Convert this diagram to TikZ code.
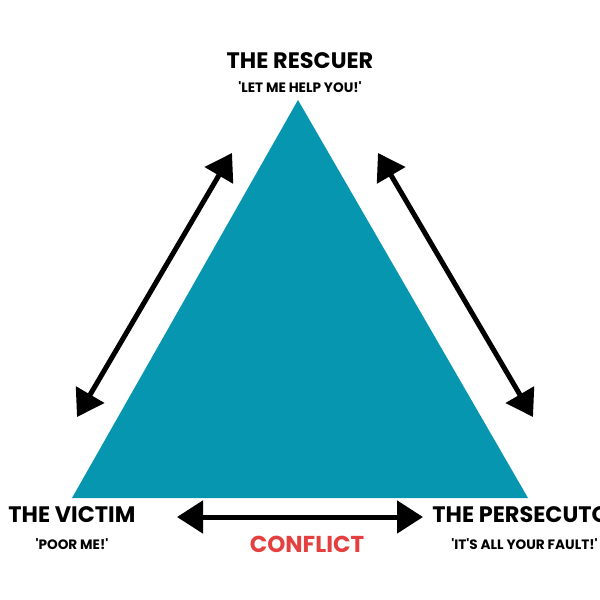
\documentclass[tikz,border=0pt]{standalone}
\usepackage{fontspec}
\setmainfont{Poppins}
\usetikzlibrary{arrows.meta}
\definecolor{dramateal}{HTML}{0796AF}
\definecolor{conflictred}{HTML}{E4403F}
\begin{document}
\begin{tikzpicture}[x=0.5pt, y=-0.5pt,
        role/.style={font=\bfseries\fontsize{11.2}{13}\selectfont, inner sep=0pt},
        quote/.style={font=\bfseries\fontsize{6.8}{8}\selectfont, inner sep=0pt},
        swap/.style={line width=2.5pt, {Triangle[length=13pt,width=16pt]}-{Triangle[length=13pt,width=16pt]}}]
        \useasboundingbox (0,0) rectangle (600,600);
        \clip (0,0) rectangle (600,600);

        % the triangle
        \coordinate (rescuer) at (298,100);
        \coordinate (victim) at (72,498);
        \coordinate (persecutor) at (528,498);
        \fill[dramateal] (rescuer) -- (victim) -- (persecutor) -- cycle;

        % labels
        \node[role] (rescuername) at (300,61) {THE RESCUER};
        \node[quote] (rescuerquote) at (300,87) {\textquotesingle LET ME HELP YOU!\textquotesingle};
        \node[role, anchor=west] (victimname) at (8,515) {THE VICTIM};
        \node[quote] (victimquote) at (72,544) {\textquotesingle POOR ME!\textquotesingle};
        \node[role, anchor=west] (persecutorname) at (432,515) {THE PERSECUTOR};
        \node[quote, anchor=west] (persecutorquote) at (451,544) {\textquotesingle IT\textquotesingle S ALL YOUR FAULT!\textquotesingle};
        \node[font=\bfseries\fontsize{11.5}{13}\selectfont, text=conflictred, inner sep=0pt] (conflict) at (307,544) {CONFLICT};

        % arrows
        \coordinate (lefttop) at (232,153);
        \coordinate (leftbottom) at (77,417);
        \coordinate (righttop) at (378,153);
        \coordinate (rightbottom) at (533,417);
        \coordinate (baseleft) at (177,517);
        \coordinate (baseright) at (423,517);
        \draw[swap] (lefttop) -- (leftbottom);
        \draw[swap] (righttop) -- (rightbottom);
        \draw[swap] (baseleft) -- (baseright);
    \end{tikzpicture}
\end{document}
